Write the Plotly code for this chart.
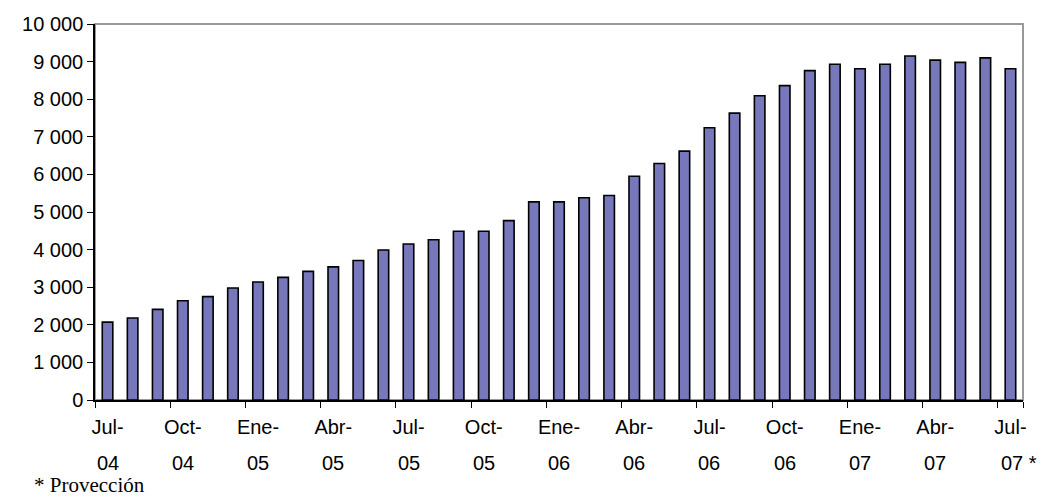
import plotly.graph_objects as go

# meses jul-04 a jul-07 (el último es proyección)
meses = [
    "Jul-04", "Ago-04", "Sep-04", "Oct-04", "Nov-04", "Dic-04",
    "Ene-05", "Feb-05", "Mar-05", "Abr-05", "May-05", "Jun-05",
    "Jul-05", "Ago-05", "Sep-05", "Oct-05", "Nov-05", "Dic-05",
    "Ene-06", "Feb-06", "Mar-06", "Abr-06", "May-06", "Jun-06",
    "Jul-06", "Ago-06", "Sep-06", "Oct-06", "Nov-06", "Dic-06",
    "Ene-07", "Feb-07", "Mar-07", "Abr-07", "May-07", "Jun-07",
    "Jul-07",
]
valores = [
    2070, 2180, 2410, 2640, 2750, 2980,
    3140, 3260, 3420, 3540, 3710, 3990,
    4150, 4260, 4490, 4490, 4770, 5270,
    5270, 5380, 5440, 5950, 6290, 6620,
    7240, 7630, 8090, 8360, 8760, 8930,
    8810, 8930, 9150, 9040, 8980, 9100,
    8810,
]
etiquetas_mes = ["Jul-", "Oct-", "Ene-", "Abr-", "Jul-", "Oct-", "Ene-",
                 "Abr-", "Jul-", "Oct-", "Ene-", "Abr-", "Jul-"]
etiquetas_anio = ["04", "04", "05", "05", "05", "05", "06",
                  "06", "06", "06", "07", "07", "07 *"]
y_ticks = [0, 1000, 2000, 3000, 4000, 5000, 6000, 7000, 8000, 9000, 10000]

fuente = "Liberation Sans, Arial, sans-serif"
tick_pos = meses[::3]

fig = go.Figure()

fig.add_trace(
    go.Bar(
        x=meses,
        y=valores,
        marker=dict(color="#7777BB", line=dict(color="black", width=1.6)),
        width=0.42,
        showlegend=False,
        hoverinfo="x+y",
    )
)

# segunda línea de las etiquetas (año)
for mes, anio in zip(tick_pos, etiquetas_anio):
    ultimo = anio.endswith("*")
    fig.add_annotation(
        x=mes, y=0, xref="x", yref="paper",
        text=anio, showarrow=False,
        xanchor="left" if ultimo else "center",
        xshift=-11 if ultimo else 0,
        yanchor="middle", yshift=-63,
        font=dict(family=fuente, size=20, color="black"),
    )

fig.add_annotation(
    x=0, y=0, xref="paper", yref="paper",
    text="* Provección", showarrow=False,
    xanchor="left", yanchor="middle",
    xshift=-63, yshift=-85,
    font=dict(family="Liberation Serif, Times New Roman, serif", size=21, color="black"),
)

# marco gris del área de trazado
fig.add_shape(
    type="rect", xref="paper", yref="paper", x0=0, x1=1, y0=0, y1=1,
    line=dict(color="#999999", width=2), layer="below",
)

fig.update_layout(
    width=1041,
    height=499,
    margin=dict(l=95, r=18, t=24, b=99),
    plot_bgcolor="white",
    paper_bgcolor="white",
    separators=", ",
    bargap=0.58,
    font=dict(family=fuente, size=20, color="black"),
)

fig.update_xaxes(
    type="category",
    range=[-0.5, len(meses) - 0.5],
    tickmode="array",
    tickvals=tick_pos,
    ticktext=etiquetas_mes,
    tickson="boundaries",
    ticks="outside",
    ticklen=6,
    tickcolor="black",
    showline=True,
    linecolor="black",
    linewidth=1.5,
    showgrid=False,
    tickangle=0,
    ticklabelstandoff=8,
    tickfont=dict(family=fuente, size=20, color="black"),
)

fig.update_yaxes(
    range=[0, 10000],
    tickvals=y_ticks,
    tickformat=",d",
    ticks="outside",
    ticklen=6,
    tickcolor="black",
    showline=True,
    linecolor="black",
    linewidth=1.5,
    showgrid=False,
    zeroline=False,
    tickfont=dict(family=fuente, size=20, color="black"),
)

# sin margen de página para que la figura ocupe la ventana completa
fig.write_html(
    "out.html",
    config={"displayModeBar": False},
    post_script="document.body.style.margin='0';document.body.style.overflow='hidden';",
)
